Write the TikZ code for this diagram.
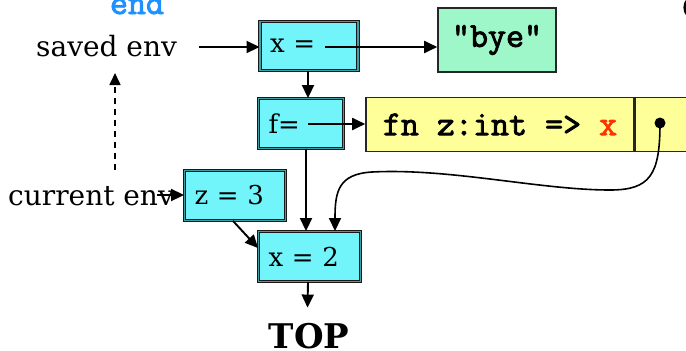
\documentclass[tikz,border=0pt]{standalone}
\usepackage{fontspec}
\setmainfont{DejaVu Serif}
\newfontfamily\codefam{Latin Modern Mono}[FakeBold=2.5]
\usetikzlibrary{arrows.meta}
\definecolor{envfill}{HTML}{72F4FB}
\definecolor{envedge}{HTML}{3E9FA6}
\definecolor{byefill}{HTML}{9DF7C8}
\definecolor{fnfill}{HTML}{FFFF99}
\definecolor{redx}{HTML}{FF3300}
\definecolor{blueend}{HTML}{1E90FF}
\begin{document}
\begin{tikzpicture}[x=1pt,y=-1pt,
  arr/.style={line width=1.9pt,-{Triangle[length=13pt,width=12pt]}},
  envbox/.style={draw=black!90,double=envedge,double distance=1.6pt,line width=0.9pt,
    fill=envfill,inner xsep=10pt,inner ysep=0pt,align=left,anchor=center,
    font=\fontsize{26}{30}\selectfont},
  codefont/.style={font=\fontsize{35}{38}\selectfont\codefam},
  plainbox/.style={draw=black!85,line width=1.6pt,inner sep=0pt,anchor=center,codefont},
  label/.style={inner sep=0pt,font=\fontsize{28}{32}\selectfont}]
\useasboundingbox (0,0) rectangle (686,351);
\clip (0,0) rectangle (686,351);

% top-left keyword
\node[inner sep=0pt,anchor=base,text=blueend,codefont] (endkw) at (137,14) {end};

% labels
\node[label,anchor=base west] (saved) at (36,56) {saved env};
\node[label,anchor=base west] (cur) at (8,205) {current env};

% environment boxes
\node[envbox,text width=78pt,minimum height=49pt] (xeq) at (309,46) {x =};
\node[envbox,text width=65pt,minimum height=50pt] (feq) at (301,123.5) {f=};
\node[envbox,text width=81pt,minimum height=50pt] (zthree) at (235,195.5) {z = 3};
\node[envbox,text width=82pt,minimum height=50pt] (xtwo) at (309.5,256.5) {x = 2};

% value boxes
\node[plainbox,fill=byefill,minimum width=118pt,minimum height=64pt] (bye) at (497,40) {“bye”};
\node[plainbox,fill=fnfill,minimum width=268pt,minimum height=54pt] (fnbox) at (500,124.5) {fn z:int => \textcolor{redx}{x}};
\node[plainbox,fill=fnfill,minimum width=90pt,minimum height=54pt,anchor=west] (ptrbox) at (fnbox.east) {};
\node[circle,fill=black,inner sep=0pt,minimum size=11pt] (dot) at (660,123) {};

% TOP
\node[inner sep=0pt,anchor=base,font=\fontsize{34}{38}\selectfont\bfseries] (top) at (309,348) {TOP};

% internal coordinates
\coordinate (xsrc) at (325,47);
\coordinate (fsrc) at (308,124);
\coordinate (curarr) at (157,195);
\coordinate (dashstart) at (115,170);
\coordinate (dashend) at (115,73);

% connectors
\draw[arr] ([xshift=22pt,yshift=9pt]saved.base east) -- (xeq.west |- 0,47);
\draw[arr] (xsrc) -- (bye.west |- xsrc);
\draw[arr] ([xshift=-1pt]xeq.south) -- ([xshift=-1pt]xeq.south |- feq.north);
\draw[arr] (fsrc) -- (fnbox.west |- fsrc);
\draw[arr] ([xshift=5pt]feq.south) -- ([xshift=5pt]feq.south |- xtwo.north);
\draw[arr] (curarr) -- (zthree.west |- curarr);
\draw[arr] ([xshift=-2pt]zthree.south) -- ([yshift=-17pt]xtwo.north west);
\draw[arr] ([xshift=-1.5pt]xtwo.south) -- ([xshift=-1.5pt,yshift=15pt]top.north);
\draw[line width=1.6pt,dashed,dash pattern=on 6pt off 5pt,-{Triangle[length=12pt,width=11pt]}] (dashstart) -- (dashend);
\draw[line width=1.6pt,-{Triangle[length=13pt,width=12pt]}] (dot.center)
  .. controls (660,175) and (650,190) .. (610,190)
  .. controls (540,190) and (450,168) .. (372,172)
  .. controls (338,174) and (335,192) .. ([xshift=25.5pt]xtwo.north);

% cropped glyph at top right
\draw[line width=2.5pt] (688,-1) .. controls (683.5,4) and (683.5,11) .. (688,16);
\end{tikzpicture}
\end{document}
